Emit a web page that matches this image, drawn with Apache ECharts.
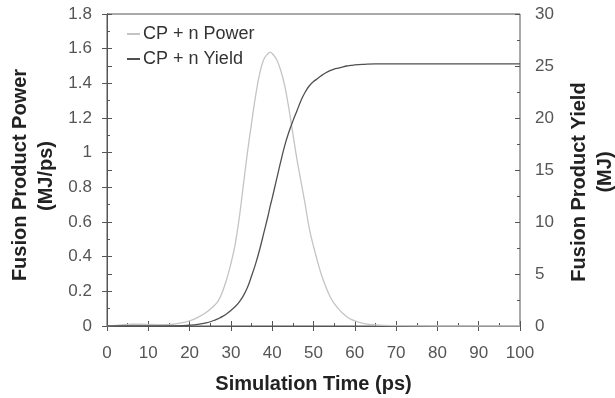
<!DOCTYPE html>
<html><head><meta charset="utf-8">
<script src="https://cdn.jsdelivr.net/npm/echarts@6/dist/echarts.min.js"></script>
<style>html,body{margin:0;padding:0;background:#fff}#c{width:615px;height:398px}</style>
</head><body><div id="c"></div>
<script>
const timePs = [0,2,4,6,8,10,12,14,16,18,20,22,24,26,27,28,29,30,31,32,33,34,35,36,37,38,39,39.5,40,41,42,43,44,45,46,47,48,49,50,51,52,53,54,55,56,57,58,59,60,62,65,70,80,90,100];
const powerMJps = [0,0.004,0.008,0.01,0.01,0.009,0.008,0.008,0.01,0.018,0.03,0.05,0.078,0.118,0.148,0.2,0.272,0.36,0.467,0.62,0.81,1.0,1.17,1.33,1.46,1.54,1.572,1.58,1.572,1.54,1.48,1.39,1.26,1.11,0.96,0.83,0.7,0.56,0.46,0.37,0.29,0.225,0.17,0.13,0.1,0.075,0.055,0.04,0.03,0.015,0.006,0.002,0,0,0];
const yieldMJ = [0,0,0,0,0,0,0,0,0.01,0.03,0.07,0.15,0.3,0.55,0.72,0.92,1.18,1.5,1.85,2.3,2.9,3.7,4.8,6.0,7.4,9.0,10.6,11.5,12.3,14.0,15.7,17.3,18.6,19.7,20.7,21.7,22.5,23.1,23.5,23.8,24.1,24.35,24.55,24.7,24.8,24.9,25.0,25.05,25.1,25.15,25.2,25.2,25.2,25.2,25.2];
const seriesNames = ['CP + n Power','CP + n Yield'];
const xTitle = 'Simulation Time (ps)';
const yLeftTitle = ['Fusion Product Power','(MJ/ps)'];
const yRightTitle = ['Fusion Product Yield','(MJ)'];

const FONT = '"Liberation Sans", Arial, sans-serif';
const AX = '#555';
const chart = echarts.init(document.getElementById('c'), null, {renderer:'canvas'});
const lbl = {color:'#555', fontSize:17, fontFamily:FONT};
const ttl = {fill:'#222', fontSize:20, fontWeight:'bold', fontFamily:FONT, align:'center', verticalAlign:'middle'};
function hiddenY(pos, min, max, interval){
  return {type:'value', position:pos, min, max, interval,
    axisLine:{show:false}, axisLabel:{show:false}, splitLine:{show:false},
    axisTick:{show:true, inside:true, length:5, lineStyle:{color:AX}},
    minorTick:{show:true, splitNumber:2, length:3, lineStyle:{color:AX}}};
}
function vtext(txt, x, y){
  return {type:'text', x, y, rotation:Math.PI/2, silent:true,
    style:Object.assign({text:txt}, ttl)};
}
chart.setOption({
  animation:false,
  grid:{left:107, right:95, top:14, bottom:72, containLabel:false, outerBoundsMode:'none',
    show:true, borderColor:AX, borderWidth:1},
  legend:{orient:'vertical', left:122, top:20, itemWidth:13, itemHeight:2, itemGap:7, icon:'rect',
    textStyle:{color:'#333', fontSize:18, fontFamily:FONT, padding:[0,0,0,-2]}, data:seriesNames},
  graphic:[
    vtext(yLeftTitle[0], 20, 175),
    vtext(yLeftTitle[1], 46, 176),
    vtext(yRightTitle[0], 579, 182),
    vtext(yRightTitle[1], 605, 172)
  ],
  xAxis:[
    {type:'value', min:0, max:100, interval:10,
      axisLine:{lineStyle:{color:AX}}, axisTick:{length:5, lineStyle:{color:AX}},
      axisLabel:Object.assign({margin:19}, lbl), splitLine:{show:false},
      name:xTitle, nameLocation:'middle', nameGap:47,
      nameTextStyle:{color:'#222', fontSize:20, fontWeight:'bold', fontFamily:FONT, lineHeight:22}},
    {type:'value', position:'bottom', min:0, max:100, interval:10,
      axisLine:{show:false}, axisLabel:{show:false}, splitLine:{show:false},
      axisTick:{show:true, inside:true, length:5, lineStyle:{color:AX}},
      minorTick:{show:true, splitNumber:2, length:3, lineStyle:{color:AX}}}
  ],
  yAxis:[
    {type:'value', position:'left', min:0, max:1.8, interval:0.2,
      axisLine:{show:true, lineStyle:{color:AX}}, axisTick:{show:true, length:5, lineStyle:{color:AX}},
      axisLabel:Object.assign({margin:15, formatter:v=>String(+v.toFixed(1))}, lbl), splitLine:{show:false}},
    {type:'value', position:'right', min:0, max:30, interval:5,
      axisLine:{show:true, lineStyle:{color:AX}}, axisTick:{show:true, length:5, lineStyle:{color:AX}},
      axisLabel:Object.assign({margin:15}, lbl), splitLine:{show:false}},
    hiddenY('left', 0, 1.8, 0.2),
    hiddenY('right', 0, 30, 5)
  ],
  series:[
    {name:seriesNames[0], type:'line', xAxisIndex:0, yAxisIndex:0, smooth:0.4, showSymbol:false,
      lineStyle:{color:'#c4c4c4', width:1.3}, itemStyle:{color:'#c4c4c4'},
      data:timePs.map((t,i)=>[t, powerMJps[i]])},
    {name:seriesNames[1], type:'line', xAxisIndex:0, yAxisIndex:1, smooth:0.4, showSymbol:false,
      lineStyle:{color:'#505050', width:1.3}, itemStyle:{color:'#505050'},
      data:timePs.map((t,i)=>[t, yieldMJ[i]])}
  ]
});
</script></body></html>
